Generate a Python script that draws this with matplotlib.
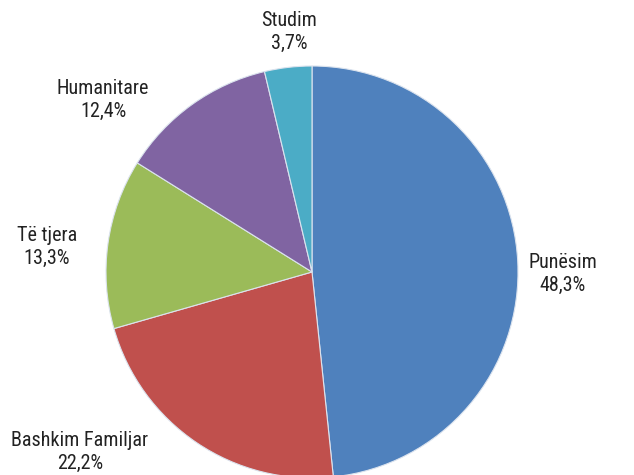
import matplotlib
matplotlib.use("Agg")
import matplotlib.pyplot as plt
from matplotlib import font_manager

names = {f.name for f in font_manager.fontManager.ttflist}
for cand in ["Liberation Sans Narrow", "Arial Narrow", "Roboto Condensed", "Archivo Narrow", "Liberation Sans"]:
    if cand in names:
        main_font = cand
        break
else:
    main_font = "DejaVu Sans"
plt.rcParams["font.family"] = [main_font, "DejaVu Sans"]

categories = ["Punësim", "Bashkim Familjar", "Të tjera", "Humanitare", "Studim"]
values = [48.3, 22.2, 13.3, 12.4, 3.7]
value_labels = ["48,3%", "22,2%", "13,3%", "12,4%", "3,7%"]
colors = ["#4F81BD", "#C0504D", "#9BBB59", "#8064A2", "#4BACC6"]

W, H = 634, 475
fig = plt.figure(figsize=(W / 100, H / 100), dpi=100)
ax = fig.add_axes([0, 0, 1, 1])
cx, cy, r = 312, H - 272, 206
ax.pie(values, colors=colors, startangle=90, counterclock=False,
       center=(cx, cy), radius=r, frame=True,
       wedgeprops=dict(edgecolor="#dbe3ee", linewidth=0.8))
ax.set_xlim(0, W)
ax.set_ylim(0, H)
ax.set_aspect("equal")
ax.axis("off")

label_pos = [(563, 274), (80, 452), (47, 247), (103, 100), (289, 32)]
for cat, vl, (x, y) in zip(categories, value_labels, label_pos):
    ax.text(x, H - y, f"{cat}\n{vl}", ha="center", va="center",
            fontsize=14.5, color="#222222", linespacing=1.25)

fig.savefig("out.png", dpi=100)
